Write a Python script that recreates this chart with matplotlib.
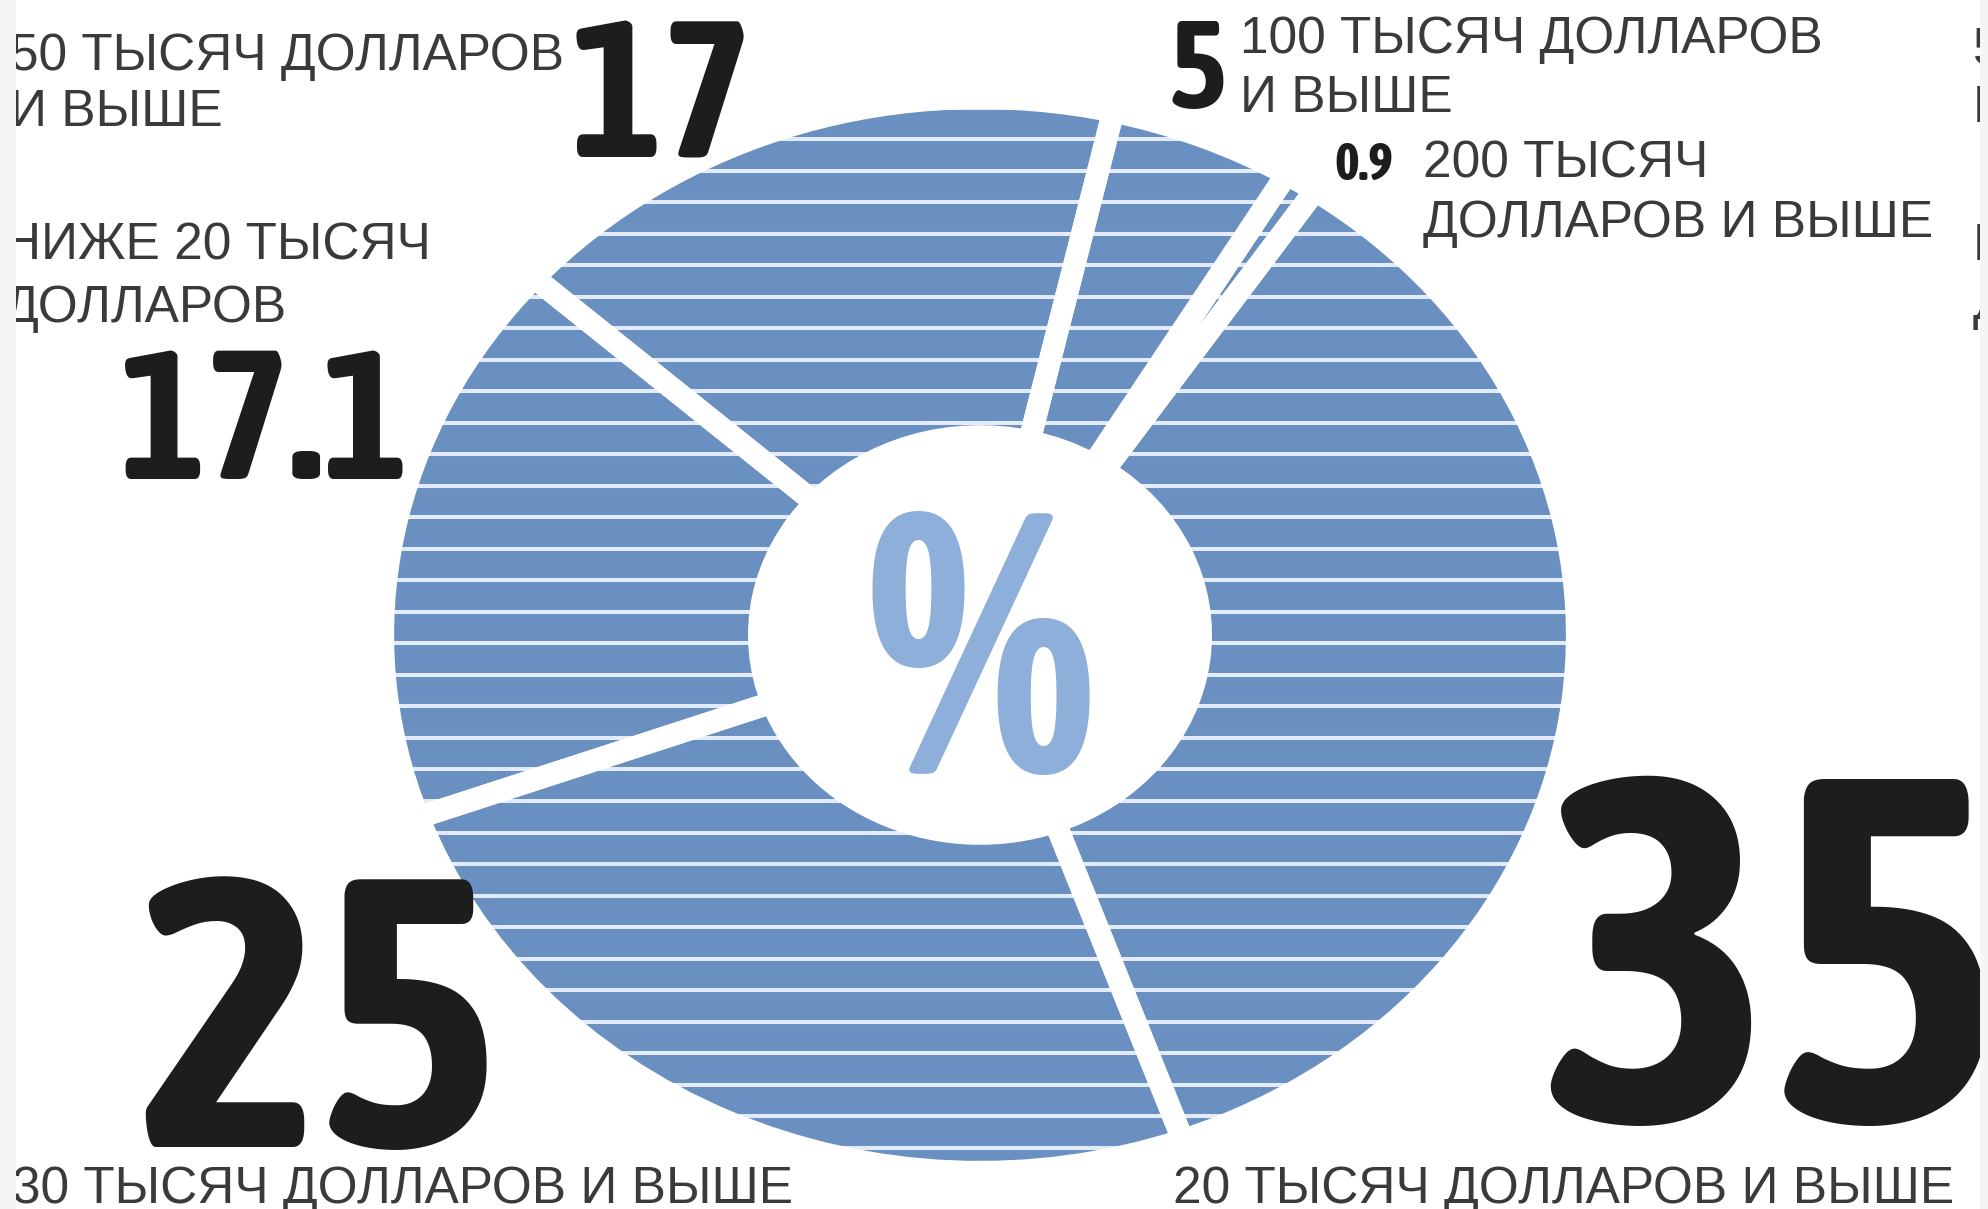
import numpy as np
import matplotlib
matplotlib.use("Agg")
from matplotlib import pyplot as plt
from matplotlib import font_manager as fm
from matplotlib.patches import Wedge, Rectangle

plt.rcParams['font.family'] = ['Liberation Sans', 'DejaVu Sans']

# data: shares of households by income, %
values = [5, 0.9, 35, 25, 17.1, 17]
value_labels = ['5', '0.9', '35', '25', '17.1', '17']
categories = ['100 ТЫСЯЧ ДОЛЛАРОВ\nИ ВЫШЕ',
              '200 ТЫСЯЧ\nДОЛЛАРОВ И ВЫШЕ',
              '20 ТЫСЯЧ ДОЛЛАРОВ И ВЫШЕ',
              '30 ТЫСЯЧ ДОЛЛАРОВ И ВЫШЕ',
              'НИЖЕ 20 ТЫСЯЧ\nДОЛЛАРОВ',
              '50 ТЫСЯЧ ДОЛЛАРОВ\nИ ВЫШЕ']


def wnum(w):
    return w if isinstance(w, int) else fm.weight_dict.get(w, 400)


def snum(s):
    return s if isinstance(s, int) else fm.stretch_dict.get(s, 500)


# a narrow bold face for the big numbers (Asap Condensed if present)
narrow = [f for f in fm.fontManager.ttflist
          if (snum(f.stretch) < 500 or 'Narrow' in f.name or 'Condensed' in f.name)
          and f.style == 'normal' and wnum(f.weight) >= 600]
narrow.sort(key=lambda f: ('Asap Condensed' not in f.name, abs(wnum(f.weight) - 700)))
if narrow:
    big_font = dict(fname=narrow[0].fname)
else:
    big_font = dict(family='DejaVu Sans', weight='bold', stretch='condensed')

blue = '#6a90c1'
stripe = '#e2ebf7'
W, H = 1988, 1209

fig = plt.figure(figsize=(W / 100, H / 100), dpi=100)
fig.patch.set_facecolor('white')

# donut, stretched a bit horizontally like the original
ax = fig.add_axes([383 / W, (H - 1172) / H, 1194 / W, 1074 / H])
wedges, _ = ax.pie(values, startangle=77.1, counterclock=False,
                   colors=[blue] * len(values),
                   wedgeprops=dict(width=0.63, linewidth=0))
ax.set_aspect('auto')
ax.set_xlim(-1, 1)
ax.set_ylim(-1, 1)
ax.axis('off')

stripe_y = np.arange(-1.2, 1.2, 0.0587) + 0.0104
for w in wedges:
    lc = ax.hlines(stripe_y, -1.1, 1.1, colors=stripe, linewidth=2.9, zorder=2)
    lc.set_clip_path(w)
    gap = Wedge(w.center, w.r, w.theta1, w.theta2, width=w.width,
                facecolor='none', edgecolor='white', linewidth=16,
                joinstyle='round', zorder=3)
    ax.add_patch(gap)

# overlay in pixel coordinates for the labels
ov = fig.add_axes([0, 0, 1, 1], zorder=5)
ov.set_xlim(0, W)
ov.set_ylim(H, 0)
ov.axis('off')

num_col = '#1d1d1d'
lab_col = '#3a3a3a'


def big(x, y, s, size, ha='left', **kw):
    fp = fm.FontProperties(size=size, **big_font)
    return ov.text(x, y, s, fontproperties=fp, ha=ha, va='baseline', **kw)


big(981, 773, '%', 265, ha='center', color='#8dafd9')

# value numbers
big(1169, 108, value_labels[0], 89, color=num_col)
big(1334, 180, value_labels[1], 38, color=num_col)
big(1541, 1122, value_labels[2], 352, color=num_col)
big(139, 1147, value_labels[3], 275, color=num_col)
big(120, 479, value_labels[4], 131, color=num_col)
big(571, 158, value_labels[5], 140, color=num_col)


def label(x, y, text, ha='left', gap=59, size=37):
    lines = text.split('\n')
    first = ov.text(x, y, lines[0], fontsize=size, color=lab_col, ha=ha, va='baseline')
    if ha == 'right':
        fig.canvas.draw()
        x = first.get_window_extent().x0
    for k, line in enumerate(lines[1:], start=1):
        ov.text(x, y + k * gap, line, fontsize=size, color=lab_col, ha='left', va='baseline')


# category labels
label(1240, 53, categories[0])
label(1423, 178, categories[1])
label(1173, 1203, categories[2])
label(12, 1203, categories[3])
label(431, 260, categories[4], ha='right', gap=62)
label(564, 70, categories[5], ha='right', gap=56)

# remnants of the neighbouring panel at the right edge
label(1973, 63, '5\nИ')
label(1973, 260, 'Н\nД')

# light grey margins of the scan
ov.add_patch(Rectangle((0, 0), 16, H, facecolor='#f5f5f5', edgecolor='none', zorder=10))
ov.add_patch(Rectangle((1980, 0), 8, H, facecolor='#f5f5f5', edgecolor='none', zorder=10))

fig.savefig('out.png', dpi=100)
